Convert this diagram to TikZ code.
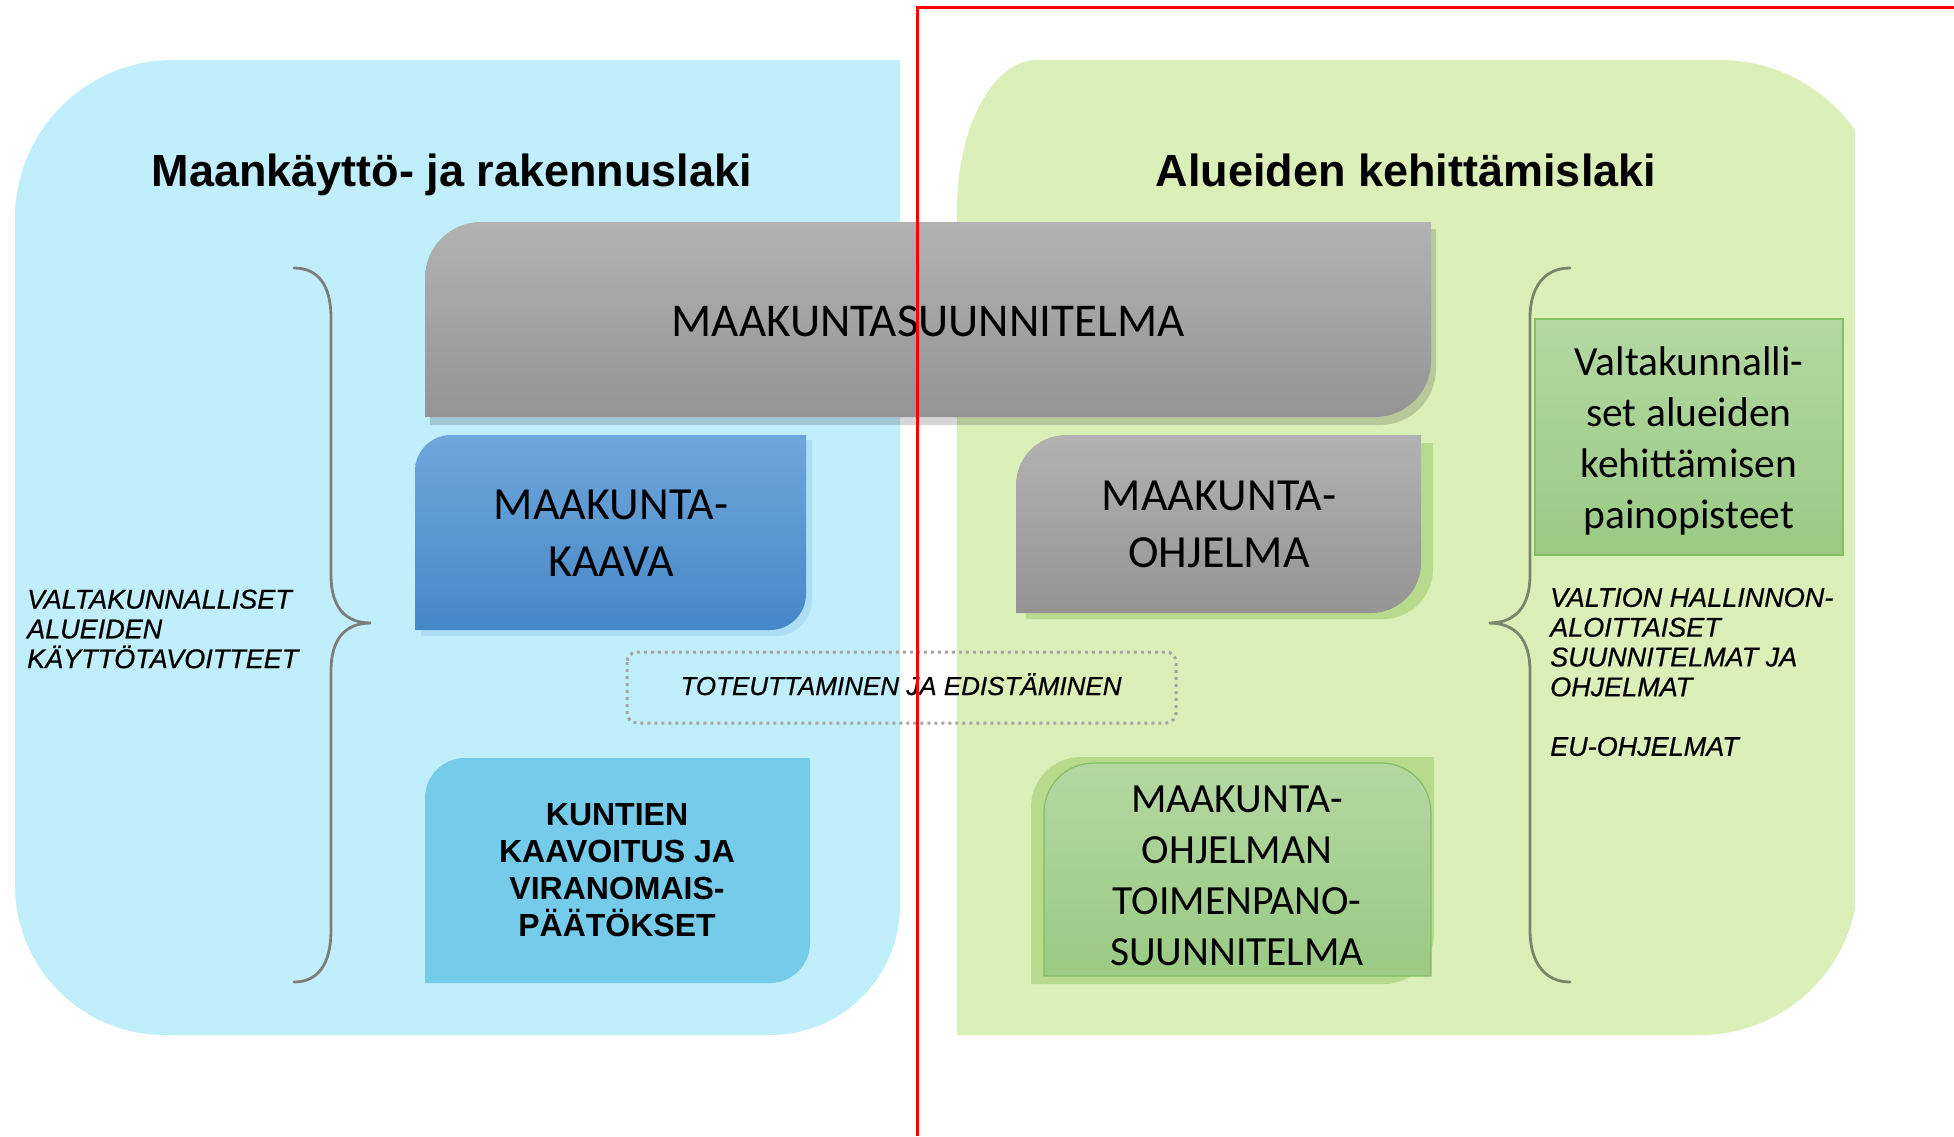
\documentclass[tikz,border=0pt]{standalone}
\usepackage{fontspec}
\setmainfont{Carlito}
\newfontfamily\arial{Liberation Sans}
\newfontfamily\arialfb[FakeBold=0.6]{Liberation Sans}
\definecolor{bluepanel}{RGB}{192,238,251}
\definecolor{greenpanel}{RGB}{219,239,185}
\definecolor{graytop}{RGB}{178,178,178}
\definecolor{graybot}{RGB}{148,148,148}
\definecolor{bluetop}{RGB}{112,166,219}
\definecolor{bluebot}{RGB}{68,136,201}
\definecolor{cyanbox}{RGB}{116,204,234}
\definecolor{greentop}{RGB}{180,215,162}
\definecolor{greenbot}{RGB}{154,202,132}
\definecolor{greenedge}{RGB}{130,190,100}
\definecolor{greenshadow}{RGB}{184,218,140}
\definecolor{dotgray}{RGB}{165,165,165}
\definecolor{bracegray}{RGB}{125,125,125}
\definecolor{bracegreen}{RGB}{120,135,105}
\newcommand{\rTLBR}[5]{(#1,#2+#5) .. controls (#1,#2+0.448*#5) and (#1+0.448*#5,#2) .. (#1+#5,#2) -- (#3,#2) -- (#3,#4-#5) .. controls (#3,#4-0.448*#5) and (#3-0.448*#5,#4) .. (#3-#5,#4) -- (#1,#4) -- cycle}
\tikzset{
  titletxt/.style={font=\arial\bfseries\fontsize{45}{54}\selectfont, inner sep=0, anchor=base},
  bigtxt/.style={font=\fontsize{47}{57}\selectfont, inner sep=0},
  boxtxt/.style={font=\fontsize{46}{57}\selectfont, align=center, inner sep=0},
  smalltxt/.style={font=\fontsize{41.5}{51}\selectfont, align=center, inner sep=0},
  itxt/.style={font=\arialfb\itshape\fontsize{27}{29.8}\selectfont, align=left, inner sep=0, anchor=west},
  boldtxt/.style={font=\arial\bfseries\fontsize{32}{37}\selectfont, align=center, inner sep=0},
  bracestroke/.style={line width=2.8pt, line cap=round},
  redline/.style={draw=red, line width=3pt}
}
\begin{document}
\begin{tikzpicture}[x=1pt,y=-1pt]
\useasboundingbox (0,0) rectangle (1954,1136);
\fill[white] (0,0) rectangle (1954,1136);
% panels
\fill[bluepanel] (15,218) .. controls (15,131) and (86,60) .. (173,60) -- (900,60) -- (900,905) .. controls (900,977) and (842,1035) .. (770,1035) -- (165,1035) .. controls (82,1035) and (15,968) .. (15,885) -- cycle;
\begin{scope}
\clip (0,0) rectangle (1855,1136);
\fill[greenpanel] (957,1035) -- (957,210) .. controls (957,127) and (993,60) .. (1037,60) -- (1720,60) .. controls (1811,60) and (1885,134) .. (1885,225) -- (1885,700) -- (1858,878) .. controls (1858,965) and (1787,1035) .. (1700,1035) -- cycle;
\end{scope}
% titles
\node[titletxt] (t1) at (452,186) {Maankäyttö- ja rakennuslaki};
\node[titletxt] (t2) at (1406,186) {Alueiden kehittämislaki};
% braces
\draw[bracegray, bracestroke] (294,268) .. controls (318,268) and (331,285) .. (331,318) -- (331,575) .. controls (331,607) and (345,623) .. (371,623) .. controls (345,623) and (331,639) .. (331,671) -- (331,930) .. controls (331,964) and (318,982) .. (294,982);
\draw[bracegreen, bracestroke] (1570,268) .. controls (1546,268) and (1530,285) .. (1530,318) -- (1530,575) .. controls (1530,607) and (1515,623) .. (1489,623) .. controls (1515,623) and (1530,639) .. (1530,671) -- (1530,930) .. controls (1530,964) and (1546,982) .. (1570,982);
% big gray box
\fill[black, opacity=0.16] \rTLBR{430}{229}{1436}{425}{56};
\shade[top color=graytop, bottom color=graybot] \rTLBR{425}{222}{1431}{417}{56};
\node[bigtxt, anchor=base] (ms) at (928,336) {MAAKUNTASUUNNITELMA};
% maakuntakaava
\fill[bluebot, opacity=0.15] \rTLBR{421}{440}{812}{636}{36};
\shade[top color=bluetop, bottom color=bluebot] \rTLBR{415}{435}{806}{630}{36};
\node[boxtxt] (mk) at (611,533) {MAAKUNTA-\\KAAVA};
% maakuntaohjelma
\fill[greenshadow] \rTLBR{1026}{443}{1433}{619}{50};
\shade[top color=graytop, bottom color=graybot] \rTLBR{1016}{435}{1421}{613}{50};
\node[boxtxt] (mo) at (1219,524) {MAAKUNTA-\\OHJELMA};
% dotted box
\draw[dotgray, line width=3pt, dash pattern=on 3pt off 4pt, rounded corners=10pt] (627,652) rectangle (1176,723);
\node[font=\arialfb\itshape\fontsize{26}{30}\selectfont, inner sep=0, anchor=base] (te) at (901,695) {TOTEUTTAMINEN JA EDISTÄMINEN};
% kuntien
\fill[cyanbox] \rTLBR{425}{758}{810}{983}{40};
\node[boldtxt] (ku) at (617,870) {KUNTIEN\\KAAVOITUS JA\\VIRANOMAIS-\\PÄÄTÖKSET};
% toimenpanosuunnitelma
\fill[greenshadow] \rTLBR{1031}{757}{1434}{984}{50};
\path[draw=greenedge, line width=1.2pt, top color=greentop, bottom color=greenbot] (1044,976) -- (1044,813) .. controls (1044,785) and (1066,763) .. (1094,763) -- (1381,763) .. controls (1409,763) and (1431,785) .. (1431,813) -- (1431,976) -- cycle;
\node[smalltxt] (tp) at (1237,876) {MAAKUNTA-\\OHJELMAN\\TOIMENPANO-\\SUUNNITELMA};
% right box
\path[draw=greenedge, line width=1.5pt, top color=greentop, bottom color=greenbot] (1535,319) rectangle (1843,555);
\node[smalltxt] (vp) at (1689,441) {Valtakunnalli-\\set alueiden\\kehittämisen\\painopisteet};
% side texts
\node[itxt] (vk) at (27,629) {VALTAKUNNALLISET\\ALUEIDEN\\KÄYTTÖTAVOITTEET};
\node[itxt] (vh) at (1550,672) {VALTION HALLINNON-\\ALOITTAISET\\SUUNNITELMAT JA\\OHJELMAT\\[29.8pt]EU-OHJELMAT};
% red lines
\coordinate (r1) at (917,1136);
\coordinate (r2) at (917,7);
\coordinate (r3) at (1954,7);
\draw[redline] (r1) -- (r2) -- (r3);
\end{tikzpicture}
\end{document}
